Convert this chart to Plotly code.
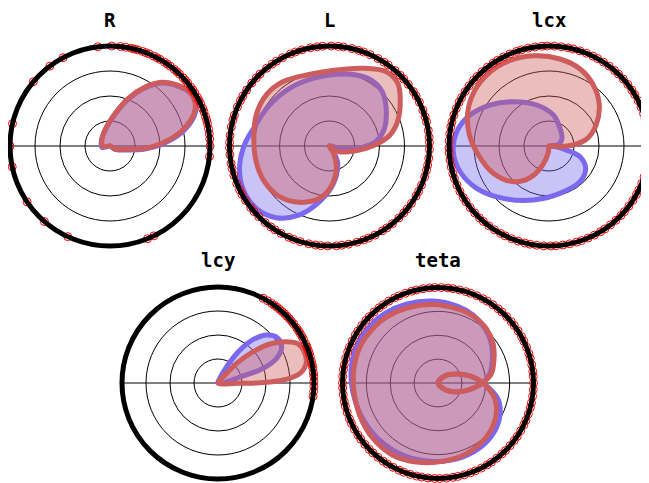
import plotly.graph_objects as go

W, H = 649, 483
PAGE_OFFSET = 8  # browser body margin around the figure

titles = ["R", "L", "lcx", "lcy", "teta"]

# ---- density curves: angle (deg) and relative radius ----
R_red_theta = [-90, -30, -10, -4, 3, 12, 21, 27, 34, 42, 51, 59, 69, 81, 107, 150, 185, 220]
R_red_r = [0, 0.06, 0.19, 0.35, 0.52, 0.735, 0.9, 0.955, 0.965, 0.91, 0.82, 0.69, 0.51, 0.33, 0.17, 0.095, 0.07, 0]
R_blue_theta = [-90, -33, -12, -5, 2, 11, 20, 26.5, 33.5, 41.5, 50.5, 58.5, 68.5, 80.5, 106, 150, 190, 220]
R_blue_r = [0, 0.06, 0.19, 0.35, 0.52, 0.738, 0.9, 0.955, 0.962, 0.905, 0.815, 0.685, 0.505, 0.33, 0.17, 0.1, 0.08, 0]

L_red_theta = [-60, -30, -10, 0, 10, 20, 32, 42.5, 52.6, 67, 85, 106, 126, 141, 157, 174, 192, 209, 225, 242, 259, 272, 287, 299, 320]
L_red_r = [0, 0.115, 0.27, 0.43, 0.61, 0.725, 0.834, 0.927, 0.935, 0.845, 0.763, 0.744, 0.795, 0.813, 0.796, 0.761, 0.75, 0.742, 0.712, 0.638, 0.533, 0.407, 0.233, 0.084, 0]
L_blue_theta = [-50, -14, -2, 6, 17.8, 33.6, 45.9, 57.7, 69.4, 84.7, 103.9, 124.7, 145.7, 165.6, 179, 193, 206, 220.4, 233.4, 246.5, 259.8, 274.8, 293.6, 304, 320]
L_blue_r = [0, 0.137, 0.333, 0.47, 0.578, 0.68, 0.757, 0.78, 0.759, 0.72, 0.697, 0.702, 0.727, 0.774, 0.85, 0.923, 0.965, 0.962, 0.893, 0.752, 0.566, 0.391, 0.207, 0.089, 0]

lcx_red_theta = [-30, -3.6, 2.4, 10.5, 24, 39.2, 54, 68, 82.8, 99.8, 115.3, 130, 144, 157.4, 172, 187, 206, 225, 239, 251.6, 265, 280]
lcx_red_r = [0, 0.11, 0.243, 0.383, 0.515, 0.649, 0.754, 0.83, 0.877, 0.915, 0.94, 0.945, 0.925, 0.88, 0.804, 0.713, 0.62, 0.505, 0.37, 0.2, 0.06, 0]
lcx_blue_theta = [0, 10, 30, 58, 82, 106.7, 128.9, 145.2, 158.6, 171.2, 183.4, 196, 210.3, 228.9, 253.8, 283, 311, 328.7, 341, 347, 355, 360]
lcx_blue_r = [0, 0.1, 0.15, 0.208, 0.313, 0.428, 0.569, 0.718, 0.849, 0.934, 0.959, 0.926, 0.838, 0.695, 0.562, 0.486, 0.473, 0.429, 0.328, 0.181, 0.06, 0]

lcy_red_theta = [-5, -1, 0.4, 2.6, 6.7, 12.5, 19.8, 26.3, 31, 36.9, 41.6, 46.5, 48.8, 52]
lcy_red_r = [0, 0.195, 0.4375, 0.681, 0.86, 0.94, 0.955, 0.925, 0.835, 0.677, 0.492, 0.283, 0.11, 0]
lcy_blue_theta = [8, 15.5, 18, 22.8, 29.7, 37.9, 44.6, 51, 57, 62, 70, 75]
lcy_blue_r = [0, 0.274, 0.496, 0.664, 0.764, 0.775, 0.7125, 0.585, 0.389, 0.193, 0.05, 0]

teta_red_theta = [-90, -41, -26, -11.8, 0.5, 10, 23.5, 35.6, 48.3, 62.4, 76, 93.6, 112, 127, 139.6, 153.3, 168.2, 183.8, 202.4, 220.5, 238, 254.7, 273.7, 291.9, 311.9, 329.5, 344.6, 360, 372.5, 386, 406, 450]
teta_red_r = [0, 0.116, 0.215, 0.339, 0.471, 0.568, 0.64, 0.709, 0.762, 0.792, 0.802, 0.823, 0.85, 0.875, 0.89, 0.9, 0.895, 0.885, 0.887, 0.895, 0.892, 0.858, 0.822, 0.797, 0.759, 0.702, 0.616, 0.471, 0.34, 0.215, 0.102, 0]
teta_blue_theta = teta_red_theta
teta_blue_r = [0, 0.116, 0.215, 0.339, 0.471, 0.55, 0.62, 0.69, 0.75, 0.8, 0.83, 0.86, 0.89, 0.915, 0.93, 0.935, 0.925, 0.9, 0.875, 0.86, 0.845, 0.83, 0.82, 0.815, 0.795, 0.745, 0.655, 0.471, 0.34, 0.215, 0.102, 0]

# ---- observed angles (rug on the outer circle) ----
R_marks = [-6, 0, 4, 7, 10, 13, 15, 17, 20, 22, 25, 27, 29, 32, 34, 36, 39, 41, 43, 46, 48, 50, 53, 55, 57, 60, 62, 64, 67, 69, 71, 74, 76, 78, 81, 84, 89, 97,
           118, 127, 140, 167, 180, 192, 214, 229, 245, 292, 296]
L_marks = [2, 5, 9, 14, 17, 21, 26, 30, 33, 38, 42, 45, 49, 54, 57, 61, 66, 70, 73, 77, 82, 85, 89, 94, 97, 101, 106, 110, 113, 118, 122, 125, 129,
           134, 137, 141, 146, 150, 153, 157, 162, 165, 169, 174, 178, 181, 185, 190, 193, 197, 202, 206, 209, 213, 218, 221, 225, 230, 234, 237,
           241, 246, 249, 253, 258, 262, 265, 269, 274, 277, 281, 286, 290, 293, 297, 302, 305, 309, 314, 318, 321, 325, 330, 333, 337, 342, 346, 349, 353, 358]
lcx_marks = [1, 4, 8, 12, 16, 19, 23, 27, 31, 34, 38, 42, 46, 49, 53, 57, 61, 64, 68, 72, 76, 79, 83, 87, 91, 94, 98, 102, 106, 109, 113, 117, 121,
             124, 128, 132, 136, 139, 143, 147, 151, 154, 158, 162, 166, 169, 173, 177, 181, 184, 188, 192, 196, 199, 203, 207, 211, 214, 218, 222,
             226, 229, 233, 237, 241, 244, 248, 252, 256, 259, 263, 267, 271, 274, 278, 282, 286, 289, 293, 297, 301, 304, 308, 312, 316, 319, 323,
             327, 331, 334, 338, 342, 346, 349, 353, 357]
lcy_marks = [-8, -5, -2, 1, 4, 6, 9, 11, 13, 16, 18, 20, 22, 24, 27, 29, 31, 33, 35, 38, 40, 42, 44, 46, 48, 50, 52, 54, 56, 59, 62]
teta_marks = [0, 4, 7, 11, 15, 18, 22, 26, 29, 33, 37, 40, 44, 48, 51, 55, 59, 62, 66, 70, 73, 77, 81, 84, 88, 92, 95, 99, 103, 106, 110, 114, 117,
              121, 125, 128, 132, 136, 139, 143, 147, 150, 154, 158, 161, 165, 169, 172, 176, 180, 183, 187, 191, 194, 198, 202, 205, 209, 213, 216,
              220, 224, 227, 231, 235, 238, 242, 246, 249, 253, 257, 260, 264, 268, 271, 275, 279, 282, 286, 290, 293, 297, 301, 304, 308, 312, 315,
              319, 323, 326, 330, 334, 337, 341, 345, 348, 352, 356]

curves = [
    (R_blue_theta, R_blue_r, R_red_theta, R_red_r, R_marks),
    (L_blue_theta, L_blue_r, L_red_theta, L_red_r, L_marks),
    (lcx_blue_theta, lcx_blue_r, lcx_red_theta, lcx_red_r, lcx_marks),
    (lcy_blue_theta, lcy_blue_r, lcy_red_theta, lcy_red_r, lcy_marks),
    (teta_blue_theta, teta_blue_r, teta_red_theta, teta_red_r, teta_marks),
]

# subplot placement in page pixels: centre x, centre y, radius
places = [(110, 146, 100), (329.5, 146, 100), (549, 146, 100), (218, 383, 96), (438, 383, 95.5)]
arrow_r = [1.05, 1.04, 1.02, 1.03, 1.02]

BLUE = "#7B68EE"
RED = "#CD5C5C"

fig = go.Figure()
layout_polars = {}
annotations = []
for i, ((bt, br, rt, rr, mk), (pcx, pcy, rad), title) in enumerate(zip(curves, places, titles)):
    cx, cy = pcx - PAGE_OFFSET, pcy - PAGE_OFFSET
    name = "polar" if i == 0 else f"polar{i+1}"
    fig.add_trace(go.Scatterpolar(theta=bt, r=br, mode="lines", fill="toself",
                                  fillcolor="rgba(123,104,238,0.4)",
                                  line=dict(color=BLUE, width=5, shape="spline"),
                                  subplot=name, showlegend=False, hoverinfo="skip"))
    fig.add_trace(go.Scatterpolar(theta=rt, r=rr, mode="lines", fill="toself",
                                  fillcolor="rgba(205,92,92,0.4)",
                                  line=dict(color=RED, width=5, shape="spline"),
                                  subplot=name, showlegend=False, hoverinfo="skip"))
    fig.add_trace(go.Scatterpolar(theta=mk, r=[1.0] * len(mk), mode="markers",
                                  marker=dict(symbol="circle-open", size=8, color="red",
                                              line=dict(width=1, color="red")),
                                  cliponaxis=False, subplot=name, showlegend=False, hoverinfo="skip"))
    fig.add_trace(go.Scatterpolar(theta=[28], r=[arrow_r[i]], mode="markers",
                                  marker=dict(symbol="triangle-right", size=18, color="black", angle=-8,
                                              line=dict(width=0)),
                                  cliponaxis=False, subplot=name, showlegend=False, hoverinfo="skip"))
    layout_polars[name] = dict(
        domain=dict(x=[max(0.0, (cx - rad) / W), min(1.0, (cx + rad) / W)],
                    y=[1 - (cy + rad) / H, 1 - (cy - rad) / H]),
        bgcolor="rgba(0,0,0,0)",
        radialaxis=dict(range=[0, 1], tickvals=[0.25, 0.5, 0.75], showticklabels=False, ticks="",
                        showline=False, gridcolor="black", gridwidth=1),
        angularaxis=dict(tickvals=[0, 180], showticklabels=False, ticks="", showline=True,
                         linecolor="black", linewidth=5, gridcolor="black", gridwidth=1,
                         direction="counterclockwise", rotation=0),
    )
    ty = (19.5 if i < 3 else 260) - PAGE_OFFSET
    annotations.append(dict(text=f"<b>{title}</b>", x=cx / W, y=1 - ty / H, xref="paper", yref="paper",
                            xanchor="center", yanchor="middle", showarrow=False,
                            font=dict(family="DejaVu Sans Mono", size=19, color="black")))

fig.update_layout(width=W, height=H, autosize=False, margin=dict(l=0, r=0, t=0, b=0),
                  paper_bgcolor="white", plot_bgcolor="white", annotations=annotations,
                  **layout_polars)
fig.write_html("out.html")
